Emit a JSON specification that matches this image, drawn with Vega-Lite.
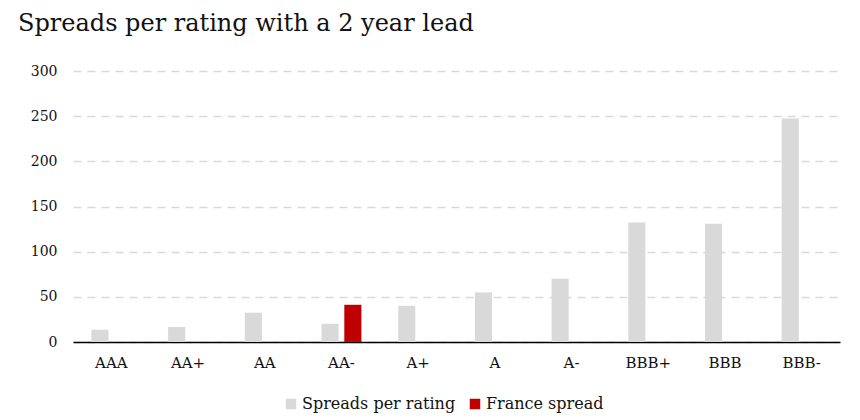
{
  "$schema": "https://vega.github.io/schema/vega-lite/v6.json",
  "autosize": "none",
  "width": 767,
  "height": 271,
  "padding": {"left": 73, "top": 71, "right": 20, "bottom": 78},
  "background": "white",
  "title": {
    "text": "Spreads per rating with a 2 year lead",
    "anchor": "start",
    "frame": "group",
    "dx": -55,
    "offset": 28,
    "font": "DejaVu Serif",
    "fontSize": 24,
    "fontWeight": "normal",
    "color": "#111111"
  },
  "data": {
    "values": [
      {"rating": "AAA", "series": "Spreads per rating", "value": 13.6},
      {"rating": "AA+", "series": "Spreads per rating", "value": 16.6},
      {"rating": "AA", "series": "Spreads per rating", "value": 32.4},
      {"rating": "AA-", "series": "Spreads per rating", "value": 20.2},
      {"rating": "AA-", "series": "France spread", "value": 41.2},
      {"rating": "A+", "series": "Spreads per rating", "value": 40.1},
      {"rating": "A", "series": "Spreads per rating", "value": 54.9},
      {"rating": "A-", "series": "Spreads per rating", "value": 70.0},
      {"rating": "BBB+", "series": "Spreads per rating", "value": 132.3},
      {"rating": "BBB", "series": "Spreads per rating", "value": 130.9},
      {"rating": "BBB-", "series": "Spreads per rating", "value": 247.3}
    ]
  },
  "mark": {"type": "bar"},
  "encoding": {
    "x": {
      "field": "rating",
      "type": "nominal",
      "sort": ["AAA", "AA+", "AA", "AA-", "A+", "A", "A-", "BBB+", "BBB", "BBB-"],
      "scale": {"paddingInner": 0.48, "paddingOuter": 0.24},
      "axis": {
        "title": null,
        "labelAngle": 0,
        "labelFont": "DejaVu Serif",
        "labelFontSize": 15,
        "labelColor": "#111111",
        "labelPadding": 13,
        "ticks": false,
        "domainColor": "#000000",
        "domainWidth": 1.5,
        "grid": false
      }
    },
    "xOffset": {
      "field": "series",
      "type": "nominal",
      "scale": {"domain": ["Spreads per rating", "France spread"], "paddingInner": 0.25, "paddingOuter": 0}
    },
    "y": {
      "field": "value",
      "type": "quantitative",
      "scale": {"domain": [0, 300], "nice": false},
      "axis": {
        "title": null,
        "values": [0, 50, 100, 150, 200, 250, 300],
        "labelFont": "DejaVu Serif",
        "labelFontSize": 14,
        "labelColor": "#111111",
        "labelPadding": 16,
        "ticks": false,
        "domain": false,
        "grid": true,
        "gridColor": "#d9d9d9",
        "gridWidth": 1.5,
        "gridDash": [8, 6]
      }
    },
    "color": {
      "field": "series",
      "type": "nominal",
      "scale": {"domain": ["Spreads per rating", "France spread"], "range": ["#d9d9d9", "#c00000"]},
      "legend": {
        "title": null,
        "orient": "none",
        "legendX": 210,
        "legendY": 325,
        "direction": "horizontal",
        "symbolType": "square",
        "symbolSize": 110,
        "symbolStrokeWidth": 0,
        "labelFont": "DejaVu Serif",
        "labelFontSize": 16,
        "labelColor": "#111111",
        "columnPadding": 11,
        "labelOffset": 3
      }
    }
  },
  "config": {
    "view": {"stroke": null},
    "font": "DejaVu Serif",
    "legend": {"labelFont": "DejaVu Serif"}
  }
}
